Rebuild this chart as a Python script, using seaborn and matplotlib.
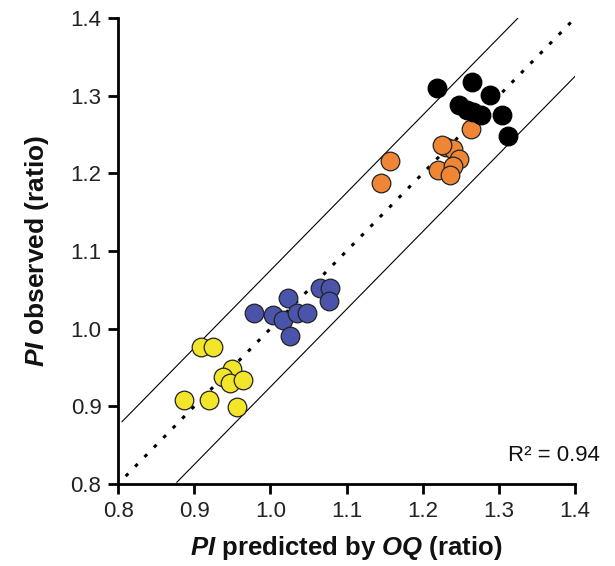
import numpy as np
import pandas as pd
import matplotlib
matplotlib.use("Agg")
import matplotlib.pyplot as plt
import seaborn as sns

# data
yellow_x = [0.909, 0.925, 0.950, 0.938, 0.947, 0.964, 0.887, 0.919, 0.956]
yellow_y = [0.976, 0.976, 0.948, 0.938, 0.930, 0.934, 0.908, 0.908, 0.899]
blue_x = [0.978, 1.003, 1.023, 1.016, 1.026, 1.035, 1.048, 1.065, 1.078, 1.077]
blue_y = [1.020, 1.017, 1.040, 1.011, 0.990, 1.020, 1.020, 1.053, 1.053, 1.036]
orange_x = [1.157, 1.145, 1.263, 1.231, 1.240, 1.247, 1.220, 1.240, 1.236, 1.225]
orange_y = [1.216, 1.187, 1.257, 1.234, 1.232, 1.219, 1.205, 1.210, 1.198, 1.236]
black_x = [1.219, 1.265, 1.288, 1.247, 1.266, 1.277, 1.304, 1.312, 1.258]
black_y = [1.310, 1.318, 1.301, 1.288, 1.279, 1.275, 1.275, 1.248, 1.281]

groups = ["yellow", "blue", "orange", "black"]
colors = {"yellow": "#f2e52a", "blue": "#4a54ab", "orange": "#ef8636", "black": "#000000"}
band = 0.075
r2_text = "R\u00b2 = 0.94"

df = pd.concat([
    pd.DataFrame({"x": yellow_x, "y": yellow_y, "g": "yellow"}),
    pd.DataFrame({"x": blue_x, "y": blue_y, "g": "blue"}),
    pd.DataFrame({"x": orange_x, "y": orange_y, "g": "orange"}),
    pd.DataFrame({"x": black_x, "y": black_y, "g": "black"}),
])

sns.set_style("ticks")
plt.rcParams["font.family"] = ["Liberation Sans", "DejaVu Sans"]
plt.rcParams["mathtext.fontset"] = "custom"
plt.rcParams["mathtext.it"] = "Liberation Sans:bold:italic"
plt.rcParams["mathtext.rm"] = "Liberation Sans:bold"
plt.rcParams["text.color"] = "#111111"
plt.rcParams["axes.labelcolor"] = "#111111"
plt.rcParams["xtick.labelcolor"] = "#222222"
plt.rcParams["ytick.labelcolor"] = "#222222"

fig = plt.figure(figsize=(6.15, 5.66), dpi=100)
ax = fig.add_axes([0.192, 0.145, 0.743, 0.823])

# identity line and the band around it
xl = np.array([0.81, 1.40])
ax.plot(xl, xl, color="black", lw=2.2, ls=(0, (1.2, 3.2)), zorder=1)
xu = np.array([0.805, 1.325])
ax.plot(xu, xu + band, color="black", lw=0.8, zorder=1)
xd = np.array([0.877, 1.405])
ax.plot(xd, xd - band, color="black", lw=0.8, zorder=1)

for g in groups:
    sub = df[df["g"] == g]
    sns.scatterplot(data=sub, x="x", y="y", color=colors[g], s=180,
                    edgecolor="#222222" if g != "black" else "black",
                    linewidth=0.9, ax=ax, zorder=3, legend=False)

ax.set_xlim(0.8, 1.4)
ax.set_ylim(0.8, 1.4)
ax.set_xticks([0.8, 0.9, 1.0, 1.1, 1.2, 1.3, 1.4])
ax.set_yticks([0.8, 0.9, 1.0, 1.1, 1.2, 1.3, 1.4])
ax.xaxis.set_major_formatter(matplotlib.ticker.FormatStrFormatter("%.1f"))
ax.yaxis.set_major_formatter(matplotlib.ticker.FormatStrFormatter("%.1f"))
ax.tick_params(axis="both", direction="out", length=7, width=2, labelsize=16,
               color="black", pad=5)
for sp in ["top", "right"]:
    ax.spines[sp].set_visible(False)
for sp in ["left", "bottom"]:
    ax.spines[sp].set_linewidth(2)
    ax.spines[sp].set_color("black")

ax.set_xlabel("$PI$ predicted by $OQ$ (ratio)", fontsize=18.5, fontweight="bold", labelpad=9)
ax.set_ylabel("$PI$ observed (ratio)", fontsize=19, fontweight="bold", labelpad=14)
ax.text(1.055, 0.062, r2_text, transform=ax.transAxes, ha="right", va="center", fontsize=16)

fig.savefig("out.png", dpi=100)
